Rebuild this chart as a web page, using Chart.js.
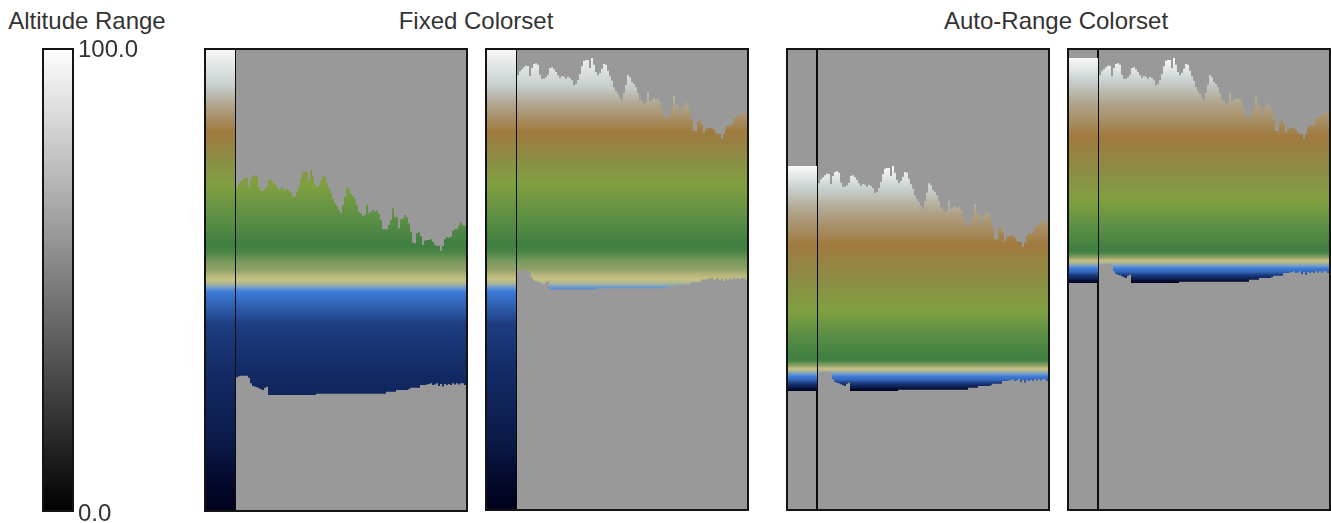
<!DOCTYPE html>
<html><head><meta charset="utf-8">
<script src="https://cdn.jsdelivr.net/npm/chart.js@4"></script>
<style>
html,body{margin:0;padding:0;background:#fff;width:1331px;height:523px;overflow:hidden}
#stage{position:relative;width:1331px;height:523px;filter:blur(0.6px);background:#fff}
canvas{position:absolute;display:block}
.t{position:absolute;top:8px;font:24px "Liberation Sans",Arial,sans-serif;color:#333;white-space:nowrap;transform:translateX(-50%);line-height:26px}
</style></head><body>
<div id="stage"></div>
<script>
// Ridge (upper) and floor (lower) of the profile, one value per column, in altitude units
const ridge=[322,324.7,328.7,330.7,332.7,334.3,334,324,332,336,336.7,335.3,325.3,321.3,321.3,322.7,325.3,332,332.7,330.7,328,324.7,322.3,324,323.3,321.3,323.3,322,319.7,314.7,316,320,326,333.7,339.3,340,340,332,342,335.3,328,324.7,327,331.3,336,335.3,329.3,323.7,319.3,312.7,308.7,306,302,299.3,307,315.3,324.7,322.7,318,316,312.7,307,300.3,298.7,296,297,307.3,299.3,300.3,302,300.3,301.3,298,292,282.7,282.7,282.7,287,292,303.7,295.3,294.7,283.7,292.7,293.3,297,294.7,288.7,280.3,269.3,268.7,278.7,280.3,276,267,271.3,272,272,272.7,270.3,267,266.3,266,261.3,266,272.7,274.7,274.3,275.3,281.3,282.7,283,286.3,289.7,286.7,286.3];
const floorLine=[128.7,134.7,135.7,136.3,136.3,136.3,136.3,134.3,128.7,126,125.3,124.7,123.7,122.7,122,124.3,125.3,117,117,117,117,117,117,117,117,117,117,117,117,117,117,117,117,117,117,117,117,117,117,117,117,118.3,118.3,118.3,118.3,118.3,118.3,118.3,118.3,118.3,118.3,118.3,118.3,118.3,118.3,118.3,118.3,118.3,118.3,118.3,118.3,118.3,118.3,118.3,118.3,118.3,118.3,118.3,118.3,118.3,118.3,118.3,118.3,118.3,118.3,118.3,120.3,120.3,120.3,120.3,120.3,122,122,122,122,122,122,122.7,124.3,124.3,124.3,124.3,124.3,127,127,127,127.5,128,128.7,127,127.5,128.7,126,128,125.5,128,127,128,127,128.7,127.5,128.7,127.5,128.7,128.7,127];

// Colour ramp (same colours, two placements)
const rampColors=['#00001a','#040c30','#0a1a48','#122a64','#1e3c80','#3468bc','#3c7ad8','#7aa0c8','#a8b498','#c6c084','#b8b87c','#90a066','#7a9a5e','#4a8546','#3f7f42','#5c8f44','#80a040','#8c8c45','#a07a3e','#b0a48c','#c8d0d0','#fafafa'];
const fixedStops=[0,.08,.151,.295,.403,.453,.474,.485,.491,.5,.509,.522,.539,.56,.575,.634,.705,.763,.819,.877,.92,1];
const autoStops=[0,.008,.015,.025,.036,.05,.064,.078,.088,.098,.104,.112,.12,.132,.147,.25,.36,.50,.65,.80,.90,1];

// Panels
const panelLeft=[204,485,786,1067];
const panelHeight=[464,463,463,463];
const panelMax=[464,352,460,352];     // altitude at panel top
const panelFloorShift=[0,-6.5,0,0];
const colorLow=[0,-111,117,117];      // altitude of the strip's bottom
const colorHigh=[464,352,342,342];    // altitude of the strip's top
const panelStops=[fixedStops,fixedStops,autoStops,autoStops];

// Legend and headings
const legendTitle='Altitude Range';
const legendTicks=[0,100];
const headings=[['Fixed Colorset',476],['Auto-Range Colorset',1056],[legendTitle,87]];

const stage=document.getElementById('stage');
Chart.defaults.animation=false;
headings.forEach(([txt,x])=>{const d=document.createElement('div');d.className='t';d.textContent=txt;d.style.left=x+'px';stage.appendChild(d);});

function addCanvas(l,t,w,h){const c=document.createElement('canvas');c.width=w;c.height=h;c.style.left=l+'px';c.style.top=t+'px';c.style.width=w+'px';c.style.height=h+'px';stage.appendChild(c);return c;}

const framePlugin={id:'frame',
 beforeDatasetsDraw(ch,a,o){const r=ch.chartArea;if(o.bg){ch.ctx.fillStyle=o.bg;ch.ctx.fillRect(r.left,r.top,r.width,r.height);}},
 afterDatasetsDraw(ch){const r=ch.chartArea,c=ch.ctx;c.save();c.strokeStyle='#141414';c.lineWidth=2;c.strokeRect(r.left+1,r.top+1,r.width-2,r.height-2);c.restore();}};

const base={type:'line',borderWidth:0,pointRadius:0,tension:0,parsing:false,normalized:true};

panelLeft.forEach((left,p)=>{
  const cv=addCanvas(left,48,264,panelHeight[p]);
  const yMax=panelMax[p], yMin=yMax-panelHeight[p];
  const fillFn=ctx=>{
    const ch=ctx.chart; if(!ch.chartArea) return '#999999';
    const y=ch.scales.y;
    const g=ch.ctx.createLinearGradient(0,y.getPixelForValue(colorLow[p]),0,y.getPixelForValue(colorHigh[p]));
    rampColors.forEach((c,i)=>g.addColorStop(panelStops[p][i],c));
    return g;
  };
  const col=arr=>{const out=arr.map((v,i)=>({x:i,y:v}));out.push({x:arr.length,y:arr[arr.length-1]});return out;};
  const fl=floorLine.map(v=>v+panelFloorShift[p]);
  new Chart(cv,{type:'line',data:{datasets:[
    {...base,data:col(ridge),stepped:'after',fill:'+1',backgroundColor:fillFn},
    {...base,data:col(fl),stepped:'after',fill:false},
    {...base,data:[{x:-16,y:colorHigh[p]},{x:-0.5,y:colorHigh[p]}],fill:'+1',backgroundColor:fillFn},
    {...base,data:[{x:-16,y:colorLow[p]},{x:-0.5,y:colorLow[p]}],fill:false},
    {...base,data:[{x:-0.5,y:yMin},{x:-0.5,y:yMax}],fill:false,borderWidth:2,borderColor:'#0c0c0c'}
  ]},options:{responsive:false,maintainAspectRatio:false,animation:false,layout:{padding:0},
    plugins:{legend:{display:false},tooltip:{enabled:false},title:{display:false},frame:{bg:'#999999'}},
    scales:{x:{type:'linear',min:-16,max:116,display:false},y:{type:'linear',min:yMin,max:yMax,display:false}}},
    plugins:[framePlugin]});
});

// Colour bar legend
(function(){
  const cv=addCanvas(0,0,175,540);
  const fillFn=ctx=>{
    const ch=ctx.chart; if(!ch.chartArea) return '#888';
    const y=ch.scales.y;
    const g=ch.ctx.createLinearGradient(0,y.getPixelForValue(legendTicks[0]),0,y.getPixelForValue(legendTicks[1]));
    g.addColorStop(0,'#000000');g.addColorStop(1,'#ffffff');return g;
  };
  new Chart(cv,{type:'line',data:{datasets:[
    {...base,data:[{x:0,y:legendTicks[1]},{x:1,y:legendTicks[1]}],fill:'+1',backgroundColor:fillFn},
    {...base,data:[{x:0,y:legendTicks[0]},{x:1,y:legendTicks[0]}],fill:false}
  ]},options:{responsive:false,maintainAspectRatio:false,animation:false,
    layout:{padding:{left:42,top:48,bottom:28,right:0}},
    plugins:{legend:{display:false},tooltip:{enabled:false},title:{display:false},frame:{}},
    scales:{
      x:{type:'linear',min:0,max:1,display:false},
      y:{type:'linear',position:'right',min:legendTicks[0],max:legendTicks[1],
         grid:{display:false,drawTicks:false},border:{display:false},
         afterBuildTicks:s=>{s.ticks=legendTicks.map(v=>({value:v}));},
         afterFit:s=>{s.width=101;},
         ticks:{padding:4,autoSkip:false,maxRotation:0,labelOffset:2,color:'#333',font:{family:'"Liberation Sans"',size:24},callback:v=>Number(v).toFixed(1)}}
    }},plugins:[framePlugin]});
})();
</script>
</body></html>
